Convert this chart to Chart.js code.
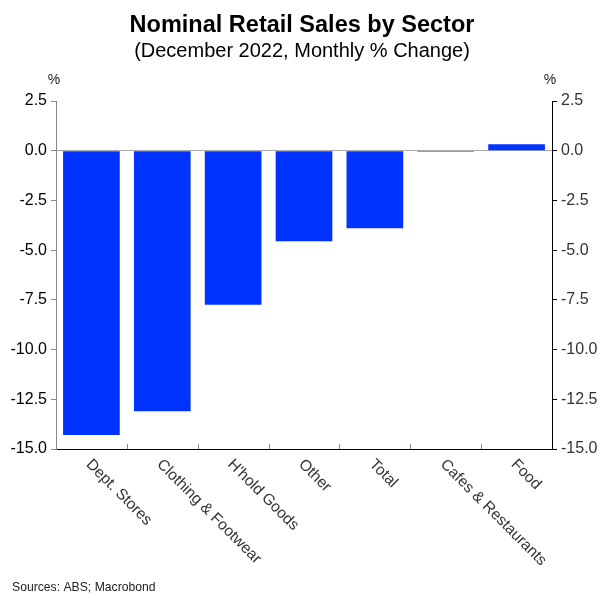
<!DOCTYPE html>
<html><head><meta charset="utf-8">
<script src="https://cdn.jsdelivr.net/npm/chart.js@4"></script>
<style>html,body{margin:0;padding:0;background:#fff}#wrap{width:604px;height:596px}</style>
</head><body><div id="wrap"><canvas id="c"></canvas></div>
<script>
const categories = ["Dept. Stores","Clothing & Footwear","H'hold Goods","Other","Total","Cafes & Restaurants","Food"];
const values = [-14.3,-13.1,-7.75,-4.55,-3.9,-0.05,0.33];
const yTicks = [2.5,0,-2.5,-5,-7.5,-10,-12.5,-15];
const titleText = "Nominal Retail Sales by Sector";
const subtitleText = "(December 2022, Monthly % Change)";
const sourceText = "Sources: ABS; Macrobond";
const FONT = "'Liberation Sans', Arial, sans-serif";

const deco = {
  id:'deco',
  afterDraw(chart){
    const ctx = chart.ctx, x = chart.scales.x, ca = chart.chartArea;
    ctx.save();
    ctx.fillStyle = '#000';
    ctx.textAlign = 'center';
    ctx.textBaseline = 'alphabetic';
    ctx.font = "bold 23.5px " + FONT;
    ctx.fillText(titleText, chart.width/2, 32);
    ctx.font = "20px " + FONT;
    ctx.fillText(subtitleText, chart.width/2, 57);
    ctx.font = "14px " + FONT;
    ctx.fillStyle = '#222';
    ctx.fillText('%', ca.left - 2, 84);
    ctx.fillText('%', ca.right - 2, 84);
    // x tick marks at category boundaries (inward)
    ctx.strokeStyle = '#888';
    ctx.lineWidth = 1;
    const n = categories.length;
    const step = x.getPixelForValue(1) - x.getPixelForValue(0);
    for (let i = 1; i < n; i++) {
      const px = Math.round(x.getPixelForValue(i) - step/2) + 0.5;
      ctx.beginPath(); ctx.moveTo(px, ca.bottom); ctx.lineTo(px, ca.bottom - 5); ctx.stroke();
    }
    // rotated category labels
    ctx.fillStyle = '#333';
    ctx.font = "15.5px " + FONT;
    ctx.textAlign = 'left';
    ctx.textBaseline = 'middle';
    for (let i = 0; i < n; i++) {
      const px = x.getPixelForValue(i);
      ctx.save();
      ctx.translate(px - 3, ca.bottom + 13);
      ctx.rotate(Math.PI/4);
      ctx.fillText(categories[i], 0, 0);
      ctx.restore();
    }
    ctx.font = "12.2px " + FONT;
    ctx.fillStyle = '#222';
    ctx.textBaseline = 'alphabetic';
    ctx.fillText(sourceText, 12, 591);
    ctx.restore();
  }
};

const yCommon = (pos, borderColor) => ({
  type:'linear', position:pos, min:-15, max:2.5,
  afterBuildTicks(s){ s.ticks = yTicks.map(v => ({value:v})); },
  afterFit(s){ s.width = pos === 'left' ? 56 : 52; },
  border:{display:true, color:borderColor, width:1},
  grid:{
    drawOnChartArea: pos === 'left',
    drawTicks:true, tickLength:5,
    color: c => (c.tick && c.tick.value === 0) ? '#aaa' : 'rgba(0,0,0,0)',
    tickColor: borderColor
  },
  ticks:{
    padding:4, color: pos === 'left' ? '#000' : '#333',
    font:{family:FONT, size:16},
    callback: v => Number(v).toFixed(1)
  }
});

new Chart(document.getElementById('c'), {
  type:'bar',
  data:{ labels:categories, datasets:[{ data:values, backgroundColor:'#0033ff', borderWidth:0, barPercentage:0.8, categoryPercentage:1.0 }]},
  options:{
    responsive:true, maintainAspectRatio:false, animation:false,
    layout:{ padding:{ top:101, bottom:0, left:0, right:0 } },
    plugins:{ legend:{display:false}, title:{display:false}, tooltip:{enabled:false} },
    scales:{
      x:{
        type:'category', offset:true,
        afterFit(s){ s.height = 147; },
        border:{display:true, color:'#000', width:1},
        grid:{display:false},
        ticks:{display:false}
      },
      y: yCommon('left', '#888'),
      y2: yCommon('right', '#000')
    }
  },
  plugins:[deco]
});
</script></body></html>
